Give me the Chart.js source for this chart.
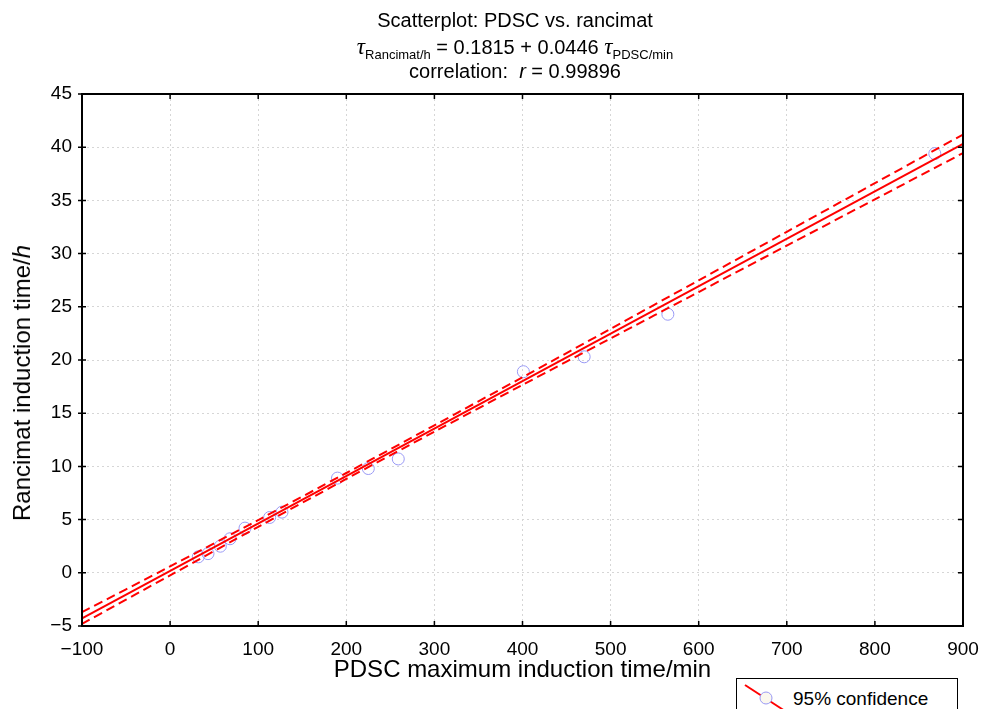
<!DOCTYPE html>
<html>
<head>
<meta charset="utf-8">
<script src="https://cdn.jsdelivr.net/npm/chart.js@4/dist/chart.umd.min.js"></script>
<style>
  body { margin: 0; background: #fff; font-family: "Liberation Sans", Arial, sans-serif; }
  #wrap { position: relative; width: 993px; height: 709px; overflow: hidden; }
  .tl { position: absolute; left: 0; width: 1030px; text-align: center; font-size: 20px; line-height: 22px; color: #000; white-space: nowrap; }
  .tau { font-family: "Liberation Serif", serif; font-style: italic; font-size: 23px; }
  .sub { font-size: 13px; position: relative; top: 5px; }
  #ytitle { position: absolute; left: 22px; top: 383px; transform: translate(-50%, -50%) rotate(-90deg); font-size: 24px; white-space: nowrap; }
  #legend { position: absolute; left: 736px; top: 678px; width: 220px; height: 40px; border: 1.5px solid #000; background: #fff; }
  #legend span { position: absolute; left: 56px; top: 9px; font-size: 19px; }
  #legend svg { position: absolute; left: 0; top: 0; }
</style>
</head>
<body>
<div id="wrap">
  <canvas id="chart" width="993" height="709"></canvas>
  <div class="tl" style="top:9px">Scatterplot: PDSC vs. rancimat</div>
  <div class="tl" style="top:36px"><span class="tau">τ</span><span class="sub">Rancimat/h</span> = 0.1815 + 0.0446 <span class="tau">τ</span><span class="sub">PDSC/min</span></div>
  <div class="tl" style="top:60px">correlation:&nbsp; <i>r</i> = 0.99896</div>
  <div id="ytitle">Rancimat induction time/<i>h</i></div>
  <div id="legend">
    <svg width="50" height="40"><line x1="8" y1="6" x2="48" y2="32" stroke="#ff0000" stroke-width="2"/><circle cx="29" cy="19" r="6" fill="#fbf8ee" stroke="#9a9af5" stroke-width="1"/></svg>
    <span>95% confidence</span>
  </div>
</div>
<script>
// scatter points
const pdscMin = [32, 43, 57, 68, 85, 113, 127, 190, 225, 259, 401, 470, 565, 868];
const rancimatH = [1.5, 1.8, 2.5, 3.2, 4.2, 5.2, 5.7, 8.9, 9.8, 10.7, 18.9, 20.3, 24.3, 39.4];

// regression line end points
const fitX = [-100, 900];
const fitY = [-4.28, 40.32];

// 95% confidence band, read at every 100 min
const bandX = [-100, 0, 100, 200, 300, 400, 500, 600, 700, 800, 900];
const bandUpper = [-3.70, 0.60, 4.96, 9.38, 13.86, 18.38, 22.93, 27.49, 32.05, 36.62, 41.19];
const bandLower = [-4.80, -0.24, 4.32, 8.82, 13.26, 17.66, 22.03, 26.39, 30.75, 35.10, 39.45];

const xTicks = [-100, 0, 100, 200, 300, 400, 500, 600, 700, 800, 900];
const yTicks = [-5, 0, 5, 10, 15, 20, 25, 30, 35, 40, 45];

const pairs = (xs, ys) => xs.map((x, i) => ({x: x, y: ys[i]}));
const minus = v => String(v).replace('-', '\u2212');

// frame around the plot with inward tick marks
const framePlugin = {
  id: 'frame',
  afterDraw(chart) {
    const ctx = chart.ctx;
    const a = chart.chartArea;
    const sx = chart.scales.x, sy = chart.scales.y;
    ctx.save();
    ctx.strokeStyle = '#000';
    ctx.lineWidth = 1.5;
    for (const v of xTicks) {
      const px = sx.getPixelForValue(v);
      ctx.beginPath();
      ctx.moveTo(px, a.bottom); ctx.lineTo(px, a.bottom - 5);
      ctx.moveTo(px, a.top); ctx.lineTo(px, a.top + 5);
      ctx.stroke();
    }
    for (const v of yTicks) {
      const py = sy.getPixelForValue(v);
      ctx.beginPath();
      ctx.moveTo(a.left - 4, py); ctx.lineTo(a.left + 4, py);
      ctx.moveTo(a.right, py); ctx.lineTo(a.right - 5, py);
      ctx.stroke();
    }
    ctx.lineWidth = 2;
    ctx.strokeRect(a.left, a.top, a.right - a.left, a.bottom - a.top);
    ctx.restore();
  }
};

new Chart(document.getElementById('chart'), {
  type: 'scatter',
  data: {
    datasets: [
      {
        label: 'points',
        data: pairs(pdscMin, rancimatH),
        pointRadius: 6,
        pointBorderWidth: 1,
        pointBorderColor: '#9a9af5',
        pointBackgroundColor: 'rgba(0,0,0,0)',
        showLine: false,
        order: 3,
      },
      {
        label: 'fit',
        data: pairs(fitX, fitY),
        showLine: true,
        borderColor: '#ff0000',
        borderWidth: 2,
        pointRadius: 0,
        order: 1,
      },
      {
        label: 'upper',
        data: pairs(bandX, bandUpper),
        showLine: true,
        borderColor: '#ff0000',
        borderWidth: 2,
        borderDash: [9, 5],
        tension: 0.3,
        pointRadius: 0,
        order: 2,
      },
      {
        label: 'lower',
        data: pairs(bandX, bandLower),
        showLine: true,
        borderColor: '#ff0000',
        borderWidth: 2,
        borderDash: [9, 5],
        tension: 0.3,
        pointRadius: 0,
        order: 2,
      },
    ]
  },
  options: {
    responsive: false,
    devicePixelRatio: 1,
    animation: false,
    layout: { padding: { left: 0, right: 30, top: 94, bottom: 0 } },
    plugins: {
      legend: { display: false },
      tooltip: { enabled: false },
    },
    scales: {
      x: {
        type: 'linear',
        min: -100, max: 900,
        afterFit: s => { s.height = 83; },
        afterBuildTicks: s => { s.ticks = xTicks.map(v => ({value: v})); },
        ticks: {
          color: '#000', padding: 12, maxRotation: 0,
          font: { family: 'Liberation Sans', size: 19 },
          callback: v => minus(v),
        },
        grid: { color: '#d6d6d6', lineWidth: 1, drawTicks: false },
        border: { display: false, dash: [2, 3] },
        title: {
          display: true,
          text: 'PDSC maximum induction time/min',
          color: '#000',
          font: { family: 'Liberation Sans', size: 24 },
          padding: { top: 0, bottom: 24 },
        },
      },
      y: {
        type: 'linear',
        min: -5, max: 45,
        afterFit: s => { s.width = 82; },
        afterBuildTicks: s => { s.ticks = yTicks.map(v => ({value: v})); },
        ticks: {
          color: '#000', padding: 10,
          font: { family: 'Liberation Sans', size: 19 },
          callback: v => minus(v),
        },
        grid: { color: '#d6d6d6', lineWidth: 1, drawTicks: false },
        border: { display: false, dash: [2, 3] },
      },
    }
  },
  plugins: [framePlugin]
});
</script>
</body>
</html>
